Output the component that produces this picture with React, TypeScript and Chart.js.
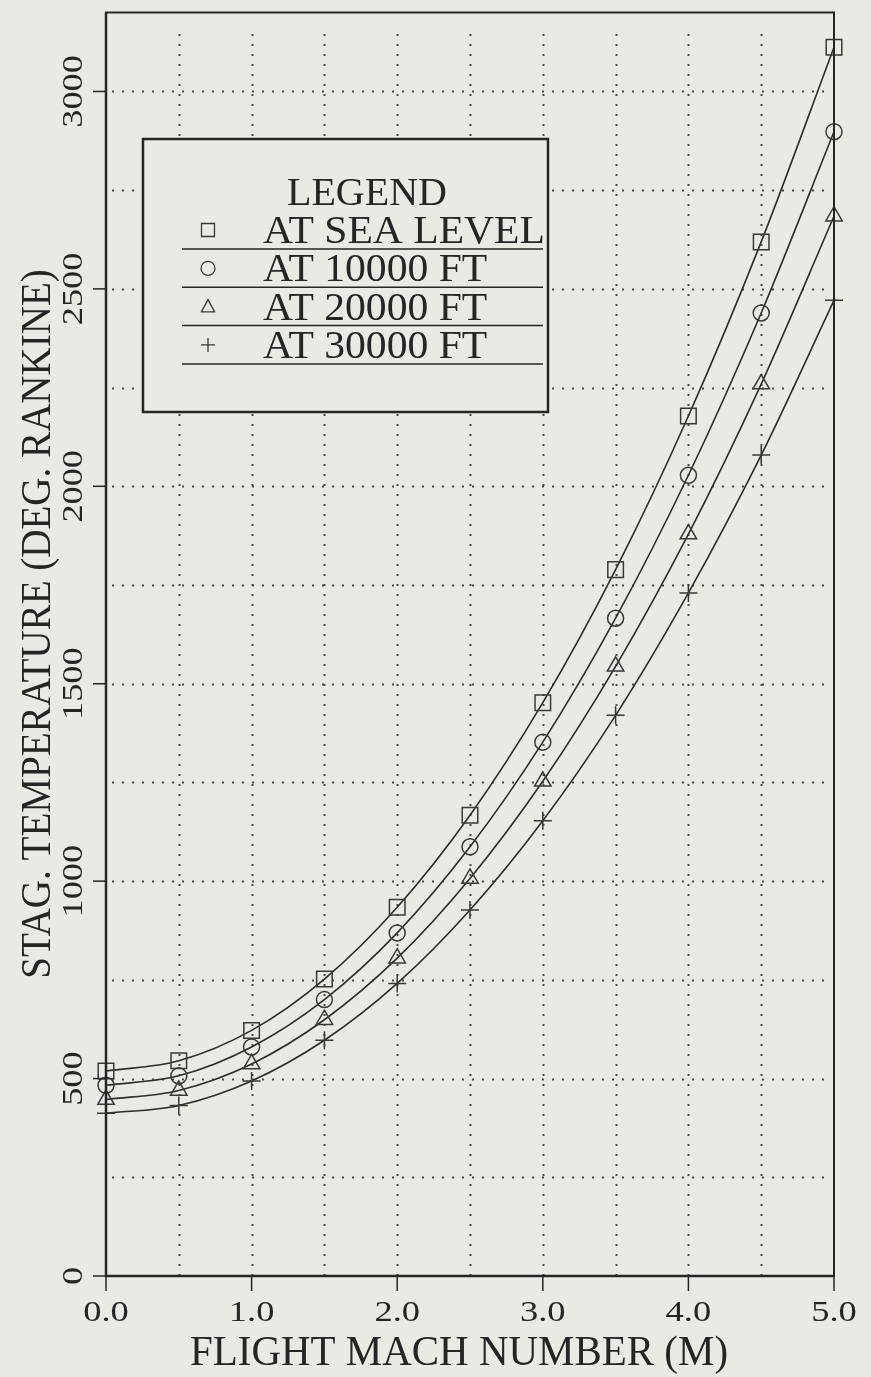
import { useEffect, useRef } from 'react';
import { Chart, registerables } from 'chart.js';

Chart.register(...registerables);

// ---- data ----
const MACH = [0, 0.5, 1.0, 1.5, 2.0, 2.5, 3.0, 3.5, 4.0, 4.5, 5.0];
const SEA_LEVEL = [519, 545, 622, 752, 934, 1167, 1452, 1789, 2178, 2619, 3112];
const FT_10000 = [483, 507, 580, 700, 869, 1087, 1352, 1666, 2028, 2439, 2898];
const FT_20000 = [447, 470, 537, 649, 805, 1007, 1253, 1544, 1879, 2259, 2684];
const FT_30000 = [412, 432, 494, 597, 741, 927, 1153, 1420, 1730, 2079, 2471];
const SERIES_LABELS = ['AT SEA LEVEL', 'AT 10000 FT', 'AT 20000 FT', 'AT 30000 FT'];
const SERIES_SYMBOLS = ['rect', 'circle', 'triangle', 'cross'];
const X_TICKS = [0, 1, 2, 3, 4, 5];
const X_TICK_LABELS = ['0.0', '1.0', '2.0', '3.0', '4.0', '5.0'];
const Y_TICKS = [0, 500, 1000, 1500, 2000, 2500, 3000];
const Y_TICK_LABELS = ['0', '500', '1000', '1500', '2000', '2500', '3000'];
const X_GRID = [0.5, 1.0, 1.5, 2.0, 2.5, 3.0, 3.5, 4.0, 4.5];
const Y_GRID = [250, 500, 750, 1000, 1250, 1500, 1750, 2000, 2250, 2500, 2750, 3000];
const X_TITLE = 'FLIGHT MACH NUMBER (M)';
const Y_TITLE = 'STAG. TEMPERATURE (DEG. RANKINE)';
const LEGEND_TITLE = 'LEGEND';

const W = 871;
const H = 1377;
const BG = '#e9eae4';
const INK = '#262424';
const FONT = '"Liberation Serif", "DejaVu Serif", serif';

function drawText(ctx: CanvasRenderingContext2D, s: string, x: number, y: number, size: number, sx: number, align: CanvasTextAlign, rot = 0) {
  ctx.save();
  ctx.translate(x, y);
  if (rot) ctx.rotate(rot);
  ctx.scale(sx, 1);
  ctx.font = `${size}px ${FONT}`;
  ctx.textAlign = align;
  ctx.textBaseline = 'alphabetic';
  ctx.fillStyle = INK;
  ctx.fillText(s, 0, 0);
  ctx.restore();
}

function drawSymbol(ctx: CanvasRenderingContext2D, kind: string, x: number, y: number, r: number) {
  ctx.beginPath();
  if (kind === 'rect') {
    ctx.rect(x - r, y - r, 2 * r, 2 * r);
  } else if (kind === 'circle') {
    ctx.arc(x, y, r, 0, Math.PI * 2);
  } else if (kind === 'triangle') {
    ctx.moveTo(x, y - r);
    ctx.lineTo(x + r * 0.95, y + r * 0.75);
    ctx.lineTo(x - r * 0.95, y + r * 0.75);
    ctx.closePath();
  } else {
    ctx.moveTo(x - r, y);
    ctx.lineTo(x + r, y);
    ctx.moveTo(x, y - r);
    ctx.lineTo(x, y + r);
  }
  ctx.stroke();
}

const paperPlugin = {
  id: 'paper',
  beforeDraw(chart: any) {
    const ctx = chart.ctx as CanvasRenderingContext2D;
    ctx.save();
    ctx.fillStyle = BG;
    ctx.fillRect(0, 0, W, H);
    ctx.restore();
  },
  beforeDatasetsDraw(chart: any) {
    const ctx = chart.ctx as CanvasRenderingContext2D;
    const { left, right, top, bottom } = chart.chartArea;
    const xs = chart.scales.x;
    const ys = chart.scales.y;
    ctx.save();
    ctx.strokeStyle = '#4a4848';
    ctx.lineWidth = 2;
    ctx.setLineDash([2, 8]);
    X_GRID.forEach((v) => {
      const px = Math.round(xs.getPixelForValue(v)) + 0.5;
      ctx.beginPath();
      ctx.moveTo(px, bottom);
      ctx.lineTo(px, top + 20);
      ctx.stroke();
    });
    Y_GRID.forEach((v) => {
      const py = Math.round(ys.getPixelForValue(v)) + 0.5;
      ctx.beginPath();
      ctx.moveTo(left + 6, py);
      ctx.lineTo(right - 4, py);
      ctx.stroke();
    });
    ctx.restore();
  },
  afterDatasetsDraw(chart: any) {
    const ctx = chart.ctx as CanvasRenderingContext2D;
    const { left, right, top, bottom } = chart.chartArea;
    const xs = chart.scales.x;
    const ys = chart.scales.y;
    ctx.save();
    // frame
    ctx.strokeStyle = INK;
    ctx.lineWidth = 2;
    ctx.strokeRect(left, top, right - left, bottom - top);
    ctx.lineWidth = 2.5;
    ctx.beginPath();
    ctx.moveTo(left, top);
    ctx.lineTo(left, bottom);
    ctx.lineTo(right, bottom);
    ctx.stroke();
    // ticks
    ctx.lineWidth = 1.5;
    Y_TICKS.forEach((v, i) => {
      const py = ys.getPixelForValue(v);
      ctx.beginPath();
      ctx.moveTo(left - 13, py);
      ctx.lineTo(left, py);
      ctx.stroke();
      drawText(ctx, Y_TICK_LABELS[i], 82, py, 29, 1.25, 'center', -Math.PI / 2);
    });
    X_TICKS.forEach((v, i) => {
      const px = xs.getPixelForValue(v);
      ctx.beginPath();
      ctx.moveTo(px, bottom);
      ctx.lineTo(px, bottom + 15);
      ctx.stroke();
      drawText(ctx, X_TICK_LABELS[i], px, 1321, 28.5, 1.28, 'center');
    });
    // titles
    drawText(ctx, X_TITLE, 459, 1365, 42, 0.975, 'center');
    drawText(ctx, Y_TITLE, 50, 624, 42, 0.93, 'center', -Math.PI / 2);

    // legend
    const bx = 143, by = 139, bw = 405, bh = 273;
    ctx.fillStyle = BG;
    ctx.fillRect(bx, by, bw, bh);
    ctx.lineWidth = 2.5;
    ctx.strokeStyle = INK;
    ctx.strokeRect(bx, by, bw, bh);
    drawText(ctx, LEGEND_TITLE, 287, 205, 40, 1.0, 'left');
    SERIES_LABELS.forEach((lab, i) => {
      const base = 243 + i * 38.3;
      drawText(ctx, lab, 263, base, 40, 1.04, 'left');
      ctx.lineWidth = 1.5;
      ctx.strokeStyle = INK;
      ctx.beginPath();
      ctx.moveTo(182, base + 6);
      ctx.lineTo(543, base + 6);
      ctx.stroke();
      ctx.lineWidth = 1.3;
      ctx.strokeStyle = '#3a3838';
      drawSymbol(ctx, SERIES_SYMBOLS[i], 208, base - 13, SERIES_SYMBOLS[i] === 'rect' ? 6.5 : 7);
    });
    ctx.restore();
  },
};

export default function App() {
  const ref = useRef<HTMLCanvasElement | null>(null);

  useEffect(() => {
    document.body.style.margin = '0';
    document.body.style.background = BG;
    const canvas = ref.current;
    if (!canvas) return;
    const series = [SEA_LEVEL, FT_10000, FT_20000, FT_30000];
    const radii = [11, 8, 9.5, 9];
    const chart = new Chart(canvas, {
      type: 'line',
      data: {
        datasets: series.map((vals, i) => ({
          label: SERIES_LABELS[i],
          data: MACH.map((m, j) => ({ x: m, y: vals[j] })),
          borderColor: '#2e2c2c',
          borderWidth: 1.6,
          cubicInterpolationMode: 'monotone' as const,
          pointStyle: SERIES_SYMBOLS[i] as any,
          pointRadius: radii[i],
          pointBorderWidth: 1.5,
          pointBorderColor: '#3a3838',
          pointBackgroundColor: 'rgba(0,0,0,0)',
          fill: false,
          clip: false as any,
        })),
      },
      options: {
        responsive: false,
        animation: false,
        devicePixelRatio: 1,
        layout: { padding: { top: 9, right: 37, left: 0, bottom: 0 } },
        plugins: { legend: { display: false }, tooltip: { enabled: false } },
        events: [],
        scales: {
          x: {
            type: 'linear',
            min: 0,
            max: 5,
            ticks: { display: false, stepSize: 0.5 },
            grid: { display: false },
            border: { display: false },
            afterFit: (s: any) => { s.height = 101; },
          },
          y: {
            type: 'linear',
            min: 0,
            max: 3200,
            ticks: { display: false, stepSize: 250 },
            grid: { display: false },
            border: { display: false },
            afterFit: (s: any) => { s.width = 106; },
          },
        },
      },
      plugins: [paperPlugin],
    });
    return () => chart.destroy();
  }, []);

  return (
    <div style={{ position: 'fixed', left: 0, top: 0, width: W, height: H, background: BG }}>
      <canvas ref={ref} width={W} height={H} style={{ display: 'block', width: W, height: H }} />
    </div>
  );
}
